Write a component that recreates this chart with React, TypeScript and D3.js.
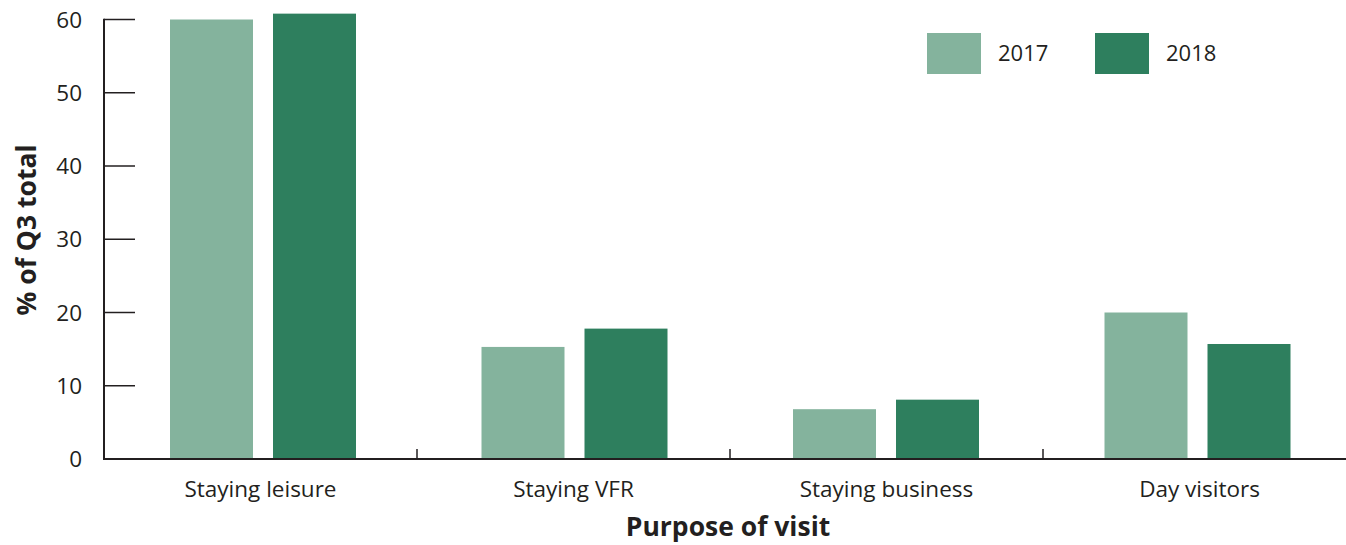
import React from "react";
import * as d3 from "d3";

const categories = ["Staying leisure", "Staying VFR", "Staying business", "Day visitors"];
const seriesNames = ["2017", "2018"];
const values2017 = [60.0, 15.3, 6.8, 20.0];
const values2018 = [60.8, 17.8, 8.1, 15.7];
const yTicks = [0, 10, 20, 30, 40, 50, 60];
const colors = ["#84B39D", "#2E7F5E"];

const W = 1346;
const H = 545;
const FONT = "'Open Sans', 'Noto Sans', sans-serif";

export default function App() {
  const x0 = 104;
  const x1 = 1355;
  const band = 313;
  const y = d3.scaleLinear().domain([0, 60]).range([459, 19.5]);
  const xBand = d3
    .scaleBand<string>()
    .domain(categories)
    .range([x0, x0 + band * categories.length])
    .paddingInner(0)
    .paddingOuter(0);
  const xGroup = d3.scalePoint<string>().domain(categories).range([263, 1197.5]);
  const barW = 83;
  const gap = 20;
  const series = [values2017, values2018];

  return (
    <svg width={W} height={H} style={{ position: "absolute", left: 0, top: 0 }}>
      <rect width={W} height={H} fill="#fff" />
      {categories.map((c, i) => {
        const cx = xGroup(c) as number;
        return series.map((s, k) => {
          const bx = cx - gap / 2 - barW + k * (barW + gap);
          return (
            <rect
              key={c + k}
              x={bx}
              y={y(s[i])}
              width={barW}
              height={y(0) - y(s[i])}
              fill={colors[k]}
            />
          );
        });
      })}
      {/* y axis */}
      <line x1={x0} x2={x0} y1={y(60) - 0.75} y2={y(0) + 1} stroke="#231F20" strokeWidth={2} />
      {yTicks.map((t) => (
        <g key={t}>
          {t > 0 && (
            <line x1={x0} x2={x0 + 31} y1={y(t)} y2={y(t)} stroke="#231F20" strokeWidth={1.5} />
          )}
          <text
            x={82}
            y={y(t)}
            dy="0.36em"
            textAnchor="end"
            fontFamily={FONT}
            fontSize={22.5}
            fill="#231F20"
          >
            {t}
          </text>
        </g>
      ))}
      {/* x axis */}
      <line x1={x0 - 1} x2={x1} y1={y(0)} y2={y(0)} stroke="#231F20" strokeWidth={2} />
      {categories.slice(1).map((c) => (
        <line
          key={c}
          x1={xBand(c) as number}
          x2={xBand(c) as number}
          y1={y(0)}
          y2={y(0) - 10}
          stroke="#231F20"
          strokeWidth={1.5}
        />
      ))}
      {categories.map((c) => (
        <text
          key={c}
          x={(xBand(c) as number) + xBand.bandwidth() / 2}
          y={497}
          textAnchor="middle"
          fontFamily={FONT}
          fontSize={22.5}
          fill="#231F20"
        >
          {c}
        </text>
      ))}
      <text
        x={728}
        y={536}
        textAnchor="middle"
        fontFamily={FONT}
        fontSize={26.5}
        fontWeight="bold"
        fill="#231F20"
      >
        Purpose of visit
      </text>
      <text
        transform={`translate(36,230) rotate(-90)`}
        textAnchor="middle"
        fontFamily={FONT}
        fontSize={26.5}
        fontWeight="bold"
        fill="#231F20"
      >
        % of Q3 total
      </text>
      {/* legend */}
      {seriesNames.map((n, k) => {
        const lx = k === 0 ? 927 : 1095;
        return (
          <g key={n}>
            <rect x={lx} y={33} width={54} height={41} fill={colors[k]} />
            <text
              x={lx + 71}
              y={53.5}
              dy="0.36em"
              fontFamily={FONT}
              fontSize={22}
              fill="#231F20"
            >
              {n}
            </text>
          </g>
        );
      })}
    </svg>
  );
}
